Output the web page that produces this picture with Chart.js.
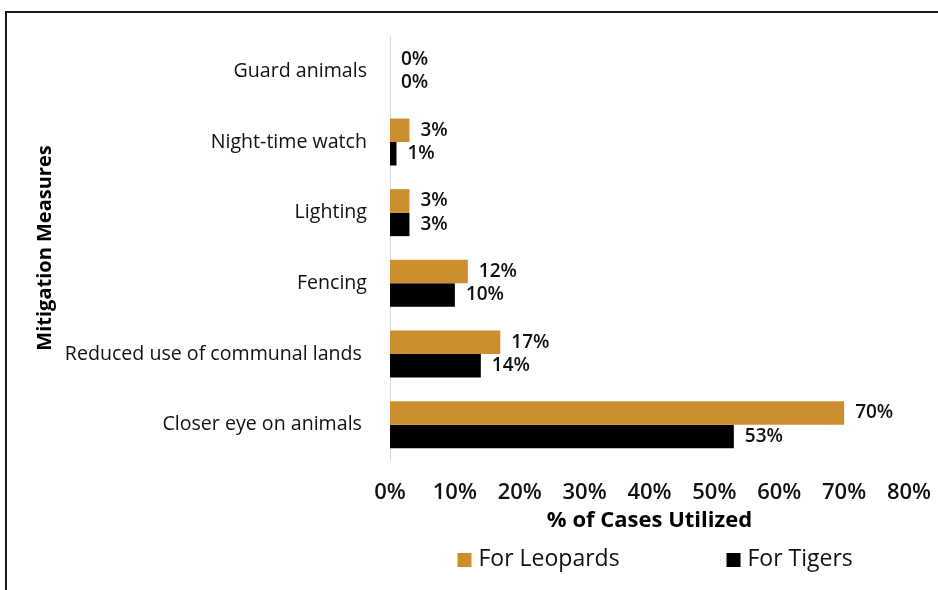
<!DOCTYPE html>
<html><head><meta charset="utf-8">
<script src="https://cdn.jsdelivr.net/npm/chart.js@4"></script>
<style>html,body{margin:0;padding:0;background:#fff;overflow:hidden}#wrap{position:relative;width:938px;height:590px}</style>
</head><body><div id="wrap"><canvas id="c" width="938" height="590"></canvas></div>
<script>
const categories = ['Guard animals','Night-time watch','Lighting','Fencing','Reduced use of communal lands ','Closer eye on animals '];
const leopards = [0, 3, 3, 12, 17, 70];
const tigers = [0, 1, 3, 10, 14, 53];
const xTickLabels = ['0%','10%','20%','30%','40%','50%','60%','70%','80%'];
const seriesNames = ['For Leopards','For Tigers'];
const seriesColors = ['#CD8F2E','#000000'];
const FONT = "'Open Sans', sans-serif";

const framePlugin = {
  id: 'frame',
  beforeDraw(chart) {
    const ctx = chart.ctx;
    ctx.save();
    ctx.strokeStyle = '#1a1a1a';
    ctx.lineWidth = 2;
    ctx.beginPath();
    ctx.moveTo(6, chart.height);
    ctx.lineTo(6, 12);
    ctx.lineTo(chart.width, 12);
    ctx.stroke();
    ctx.restore();
  }
};

const valueLabels = {
  id: 'valueLabels',
  afterDatasetsDraw(chart) {
    const ctx = chart.ctx;
    ctx.save();
    ctx.font = "600 19px " + FONT;
    ctx.fillStyle = '#111';
    ctx.textAlign = 'left';
    ctx.textBaseline = 'middle';
    chart.data.datasets.forEach((ds, di) => {
      const meta = chart.getDatasetMeta(di);
      meta.data.forEach((el, i) => {
        ctx.fillText(ds.data[i] + '%', el.x + 11, el.y);
      });
    });
    ctx.restore();
  }
};

const customLegend = {
  id: 'customLegend',
  afterDraw(chart) {
    const ctx = chart.ctx;
    const ca = chart.chartArea;
    const cx = (ca.left + ca.right) / 2;
    const y = 560;
    const starts = [cx - 192, cx + 77];
    ctx.save();
    ctx.font = "23px " + FONT;
    ctx.textBaseline = 'middle';
    ctx.textAlign = 'left';
    seriesNames.forEach((name, i) => {
      ctx.fillStyle = seriesColors[i];
      ctx.fillRect(starts[i], y - 7, 14, 14);
      ctx.fillStyle = '#111';
      ctx.fillText(name, starts[i] + 21, y - 1);
    });
    ctx.restore();
  }
};

new Chart(document.getElementById('c'), {
  type: 'bar',
  data: {
    labels: categories,
    datasets: [
      { label: seriesNames[0], data: leopards, backgroundColor: seriesColors[0], borderWidth: 0, categoryPercentage: 0.665, barPercentage: 1.0 },
      { label: seriesNames[1], data: tigers, backgroundColor: seriesColors[1], borderWidth: 0, categoryPercentage: 0.665, barPercentage: 1.0 }
    ]
  },
  options: {
    indexAxis: 'y',
    responsive: false,
    animation: false,
    devicePixelRatio: 1,
    layout: { padding: { left: 0, right: 29, top: 36, bottom: 0 } },
    plugins: { legend: { display: false }, tooltip: { enabled: false } },
    scales: {
      x: {
        min: 0, max: 80,
        grid: { display: false, drawTicks: false },
        border: { display: false },
        ticks: { stepSize: 10, padding: 20, color: '#111', font: { family: FONT, size: 22, weight: '600' },
                 callback: (v, i) => xTickLabels[i] },
        title: { display: true, text: '% of Cases Utilized', color: '#000', font: { family: FONT, size: 22, weight: 'bold' }, padding: { top: 0, bottom: 56 } },
        afterFit: s => { s.height = 130; s.paddingLeft = 0; s.paddingRight = 0; }
      },
      y: {
        grid: { display: false, drawTicks: false },
        border: { display: true, color: '#d9d9d9', width: 1 },
        ticks: { padding: 23, color: '#111', font: { family: FONT, size: 19.6 } },
        title: { display: true, text: 'Mitigation Measures', color: '#000', font: { family: FONT, size: 20, weight: 'bold' }, padding: { top: 33, bottom: 0 } },
        afterFit: s => { s.width = 390; }
      }
    }
  },
  plugins: [framePlugin, valueLabels, customLegend]
});
</script></body></html>
